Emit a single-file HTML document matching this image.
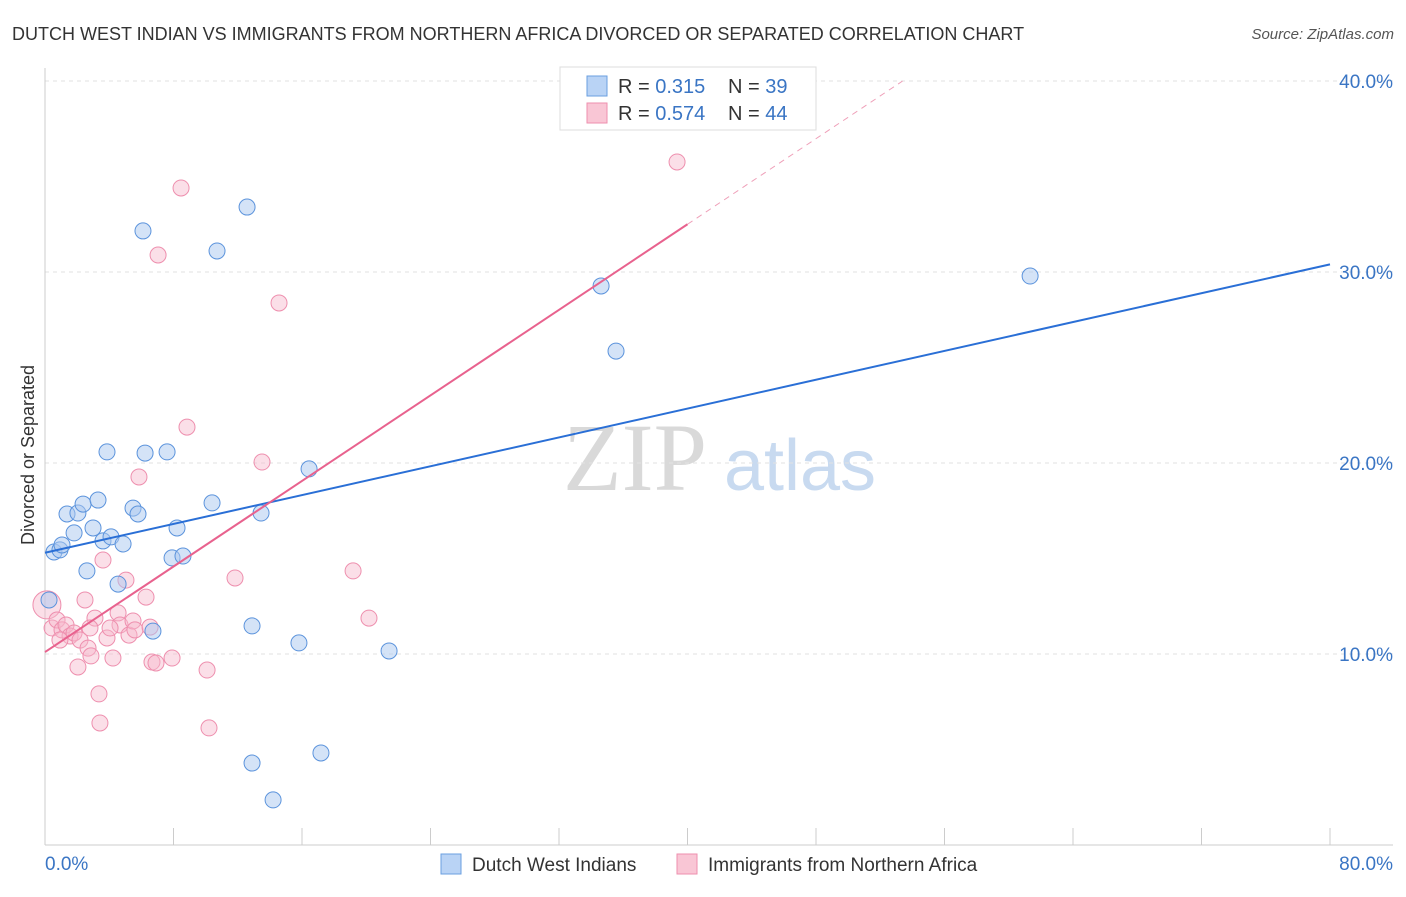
<!DOCTYPE html>
<html><head><meta charset="utf-8"><style>
body{margin:0;background:#fff;font-family:"Liberation Sans",sans-serif;}
</style></head><body>
<svg id="chart" width="1406" height="892" xmlns="http://www.w3.org/2000/svg" font-family="Liberation Sans, sans-serif">
<text x="12" y="40" font-size="18" fill="#333">DUTCH WEST INDIAN VS IMMIGRANTS FROM NORTHERN AFRICA DIVORCED OR SEPARATED CORRELATION CHART</text>
<text x="1394" y="39" font-size="15" fill="#555" font-style="italic" text-anchor="end">Source: ZipAtlas.com</text>
<g>
<text x="635" y="490" font-size="96" fill="#d9d9d9" text-anchor="middle" font-family="Liberation Serif, serif">ZIP</text>
<text x="800" y="490" font-size="72" fill="#c8daf0" text-anchor="middle">atlas</text>
</g>
<g id="grid"></g>
<g id="axes"></g>
<text transform="translate(34,455) rotate(-90)" font-size="18" fill="#333" text-anchor="middle">Divorced or Separated</text>
<g id="marks"></g>
<g>
<rect x="560" y="67" width="256" height="63" fill="#fff" stroke="#ddd"/>
<rect x="587" y="76" width="20" height="20" fill="#b9d3f5" stroke="#6a9fe0"/>
<rect x="587" y="103" width="20" height="20" fill="#f9c6d5" stroke="#ee8fae"/>
<text x="618" y="93" font-size="20" fill="#333">R = <tspan fill="#3a75c4">0.315</tspan></text>
<text x="728" y="93" font-size="20" fill="#333">N = <tspan fill="#3a75c4">39</tspan></text>
<text x="618" y="120" font-size="20" fill="#333">R = <tspan fill="#3a75c4">0.574</tspan></text>
<text x="728" y="120" font-size="20" fill="#333">N = <tspan fill="#3a75c4">44</tspan></text>
</g>
<g>
<rect x="441" y="854" width="20" height="20" fill="#b9d3f5" stroke="#6a9fe0"/>
<text x="472" y="871" font-size="19" fill="#333">Dutch West Indians</text>
<rect x="677" y="854" width="20" height="20" fill="#f9c6d5" stroke="#ee8fae"/>
<text x="708" y="871" font-size="19" fill="#333">Immigrants from Northern Africa</text>
</g>
</svg>
<script>
const blueX=[0.25,0.56,0.93,1.06,1.37,1.81,2.05,2.37,2.61,2.99,3.30,3.61,3.86,4.11,4.55,4.86,5.48,5.79,6.10,6.23,6.72,7.60,7.91,8.22,8.59,10.40,10.71,12.58,12.89,12.89,13.45,14.20,15.81,16.44,17.18,21.42,34.62,35.55,61.33];
const blueY=[12.83,15.34,15.45,15.71,17.33,16.34,17.38,17.85,14.35,16.60,18.06,15.92,20.58,16.13,13.66,15.76,17.64,17.33,32.15,20.52,11.20,20.58,15.03,16.60,15.13,17.91,31.10,33.40,11.47,4.29,17.38,2.36,10.58,19.69,4.82,10.16,29.27,25.86,29.79];
const pinkX=[0.12,0.44,0.75,1.06,1.31,1.56,1.81,2.05,2.18,2.49,2.68,2.86,3.11,3.36,3.42,3.61,3.86,4.23,4.55,4.67,5.04,5.23,5.48,5.60,5.85,6.29,6.54,6.66,6.91,7.04,7.91,8.47,8.84,10.09,10.21,11.83,13.51,14.57,19.18,20.17,39.35,0.93,4.05,2.80];
const pinkY=[12.57,11.36,11.78,11.26,11.52,10.94,11.10,9.32,10.73,12.83,10.31,9.90,11.88,7.91,6.39,14.92,10.84,9.79,12.15,11.52,13.87,10.99,11.73,11.26,19.27,12.98,11.41,9.58,9.53,30.89,9.79,34.40,21.88,9.16,6.13,13.98,20.05,28.38,14.35,11.88,35.76,10.73,11.36,11.36];
const blueLine=[15.3,30.4];
const pinkLine=[10.1,32.5];
const yTicks=[10,20,30,40];
const yTickLabels=["10.0%","20.0%","30.0%","40.0%"];
const xTicks=[0,8,16,24,32,40,48,56,64,72,80];
const NS="http://www.w3.org/2000/svg";
const sx=v=>45+v*(1285/80);
const sy=v=>845-v*19.1;
function mk(tag,attrs,parent){const e=document.createElementNS(NS,tag);for(const k in attrs)e.setAttribute(k,attrs[k]);document.getElementById(parent).appendChild(e);return e;}
yTicks.forEach((t,i)=>{
 const g=mk('line',{x1:45,x2:1393,y1:sy(t),y2:sy(t),stroke:'#e2e2e2','stroke-dasharray':'4,4'},'grid');
 
 
 const l=mk('text',{x:1393,y:sy(t)+7,'font-size':19,fill:'#3a75c4','text-anchor':'end'},'axes');
 l.textContent=yTickLabels[i];
 
 
});
const ax=mk('line',{x1:45,x2:45,y1:68,y2:845,stroke:'#ccc'},'axes');


const bx=mk('line',{x1:45,x2:1393,y1:845,y2:845,stroke:'#ccc'},'axes');


xTicks.forEach(t=>{
 const k=mk('line',{x1:sx(t),x2:sx(t),y1:828,y2:845,stroke:'#ccc'},'axes');
 
 
});
const x0=mk('text',{x:45,y:870,'font-size':19,fill:'#3a75c4'},'axes');x0.textContent='0.0%';


const x1=mk('text',{x:1393,y:870,'font-size':19,fill:'#3a75c4','text-anchor':'end'},'axes');x1.textContent='80.0%';


pinkX.forEach((x,i)=>{
 const c=mk('circle',{cx:sx(x),cy:sy(pinkY[i]),r:i===0?14:8,fill:'#f6b7cb','fill-opacity':0.45,stroke:'#ee8fae','stroke-width':1},'marks');
 
 
});
blueX.forEach((x,i)=>{
 const c=mk('circle',{cx:sx(x),cy:sy(blueY[i]),r:8,fill:'#a9c8f0','fill-opacity':0.5,stroke:'#5b93dc','stroke-width':1},'marks');
 
 
});
const bl=mk('line',{x1:sx(0),y1:sy(blueLine[0]),x2:sx(80),y2:sy(blueLine[1]),stroke:'#2a6fd6','stroke-width':2},'marks');


const pl=mk('line',{x1:sx(0),y1:sy(pinkLine[0]),x2:sx(40),y2:sy(pinkLine[1]),stroke:'#e8628e','stroke-width':2},'marks');


const slope=(pinkLine[1]-pinkLine[0])/40;
const xEnd=(40-pinkLine[0])/slope;
const pd=mk('line',{x1:sx(40),y1:sy(pinkLine[1]),x2:sx(xEnd),y2:sy(40),stroke:'#efa0b9','stroke-width':1,'stroke-dasharray':'6,5'},'marks');


</script>
</body></html>
